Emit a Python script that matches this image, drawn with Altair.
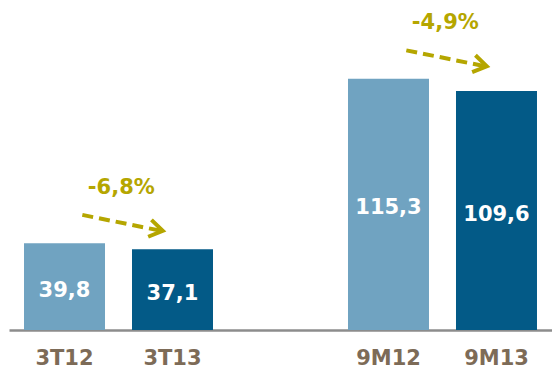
import altair as alt
import pandas as pd

# ---- data ----
categories = ["3T12", "3T13", "9M12", "9M13"]
values = [39.8, 37.1, 115.3, 109.6]
period = ["prev", "curr", "prev", "curr"]
value_labels = [f"{v:.1f}".replace(".", ",") for v in values]

arrow_from = ["3T12", "9M12"]
arrow_to = ["3T13", "9M13"]
arrow_pct = ["-6,8%", "-4,9%"]

domain = ["3T12", "3T13", "gap", "9M12", "9M13"]

bars = pd.DataFrame({"cat": categories, "value": values, "period": period,
                     "label": value_labels, "half": [v / 2 for v in values]})

vmap = dict(zip(categories, values))
arrows = pd.DataFrame({
    "from": arrow_from,
    "to": arrow_to,
    "pct": arrow_pct,
})
arrows["y1"] = [max(vmap[a], vmap[b]) + 13 for a, b in zip(arrow_from, arrow_to)]
arrows["y2"] = arrows["y1"] - 7.3

GOLD = "#B5A600"
LABEL = "#7D6B57"
FONT = "DejaVu Sans"

xscale = alt.Scale(domain=domain, paddingInner=0.25, paddingOuter=0.139)
yscale = alt.Scale(domain=[0, 151.4], nice=False, zero=True)

bar = alt.Chart(bars).mark_bar().encode(
    x=alt.X("cat:N", scale=xscale, sort=domain,
            axis=alt.Axis(title=None, ticks=False, labelAngle=0,
                          labelExpr="datum.value == 'gap' ? '' : datum.value",
                          labelFont=FONT, labelFontSize=21, labelFontWeight="bold",
                          labelColor=LABEL, labelPadding=17,
                          domainColor="#8C8C8C", domainWidth=2.5)),
    y=alt.Y("value:Q", scale=yscale, axis=None),
    color=alt.Color("period:N", scale=alt.Scale(domain=["prev", "curr"],
                                                range=["#70A3C1", "#035A87"]),
                    legend=None),
)

vals = alt.Chart(bars).mark_text(font=FONT, fontSize=21, fontWeight="bold",
                                 color="white", dy=4).encode(
    x=alt.X("cat:N", scale=xscale, sort=domain),
    y=alt.Y("half:Q", scale=yscale),
    text="label:N",
)

line = alt.Chart(arrows).mark_rule(color=GOLD, strokeWidth=4,
                                   strokeDash=[11, 6]).encode(
    x=alt.X("from:N", scale=xscale, sort=domain, bandPosition=0.72),
    x2=alt.X2("to:N", bandPosition=0.36),
    y=alt.Y("y1:Q", scale=yscale),
    y2="y2:Q",
)

head = alt.Chart(arrows).mark_point(
    shape="M-1,-0.65L0,0L-1,0.65", size=700, filled=False, stroke=GOLD,
    strokeWidth=4, angle=11, opacity=1).encode(
    x=alt.X("to:N", scale=xscale, sort=domain, bandPosition=0.38),
    y=alt.Y("y2:Q", scale=yscale),
)

pct = alt.Chart(arrows).mark_text(font=FONT, fontSize=21, fontWeight="bold",
                                  color=GOLD, dx=39, dy=-27).encode(
    x=alt.X("from:N", scale=xscale, sort=domain, bandPosition=0.72),
    y=alt.Y("y1:Q", scale=yscale),
    text="pct:N",
)

chart = alt.layer(bar, vals, line, head, pct).properties(
    width=543, height=330,
    autosize=alt.AutoSizeParams(type="none"),
    padding={"left": 9, "top": 0, "right": 0, "bottom": 48},
    background="white",
).configure_view(stroke=None)

chart.save("out.html", embed_options={"renderer": "svg", "actions": False})
